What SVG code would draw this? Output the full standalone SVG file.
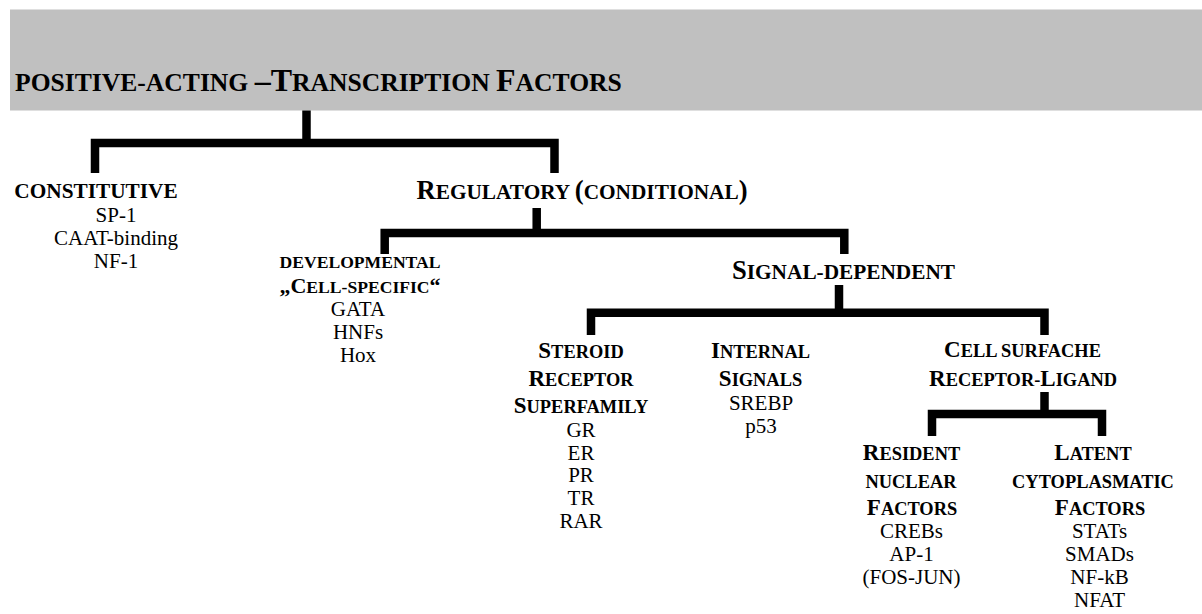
<svg xmlns="http://www.w3.org/2000/svg" width="1202" height="614" viewBox="0 0 1202 614">
<style>
text{font-family:"Liberation Serif","DejaVu Serif",serif;fill:#000}
.t{font-weight:bold;font-size:32px}
.t .s{font-size:25.6px}
.h{font-weight:bold;font-size:26.6px;text-anchor:middle}
.h .s{font-size:21.3px}
.h2{font-weight:bold;font-size:23px;text-anchor:middle}
.h2 .s{font-size:18.4px}
.h3{font-weight:bold;font-size:22px;text-anchor:middle}
.h3 .s{font-size:17.6px}
.r{font-weight:normal;font-size:21px;text-anchor:middle}
.c{fill:none;stroke:#000;stroke-width:8.5;stroke-linejoin:miter}
</style>
<g id="title">
<rect x="10" y="9.5" width="1192" height="101" fill="#c0c0c0"/>
<text class="t" x="15" y="91"><tspan class="s">POSITIVE-ACTING </tspan>–T<tspan class="s">RANSCRIPTION </tspan>F<tspan class="s">ACTORS</tspan></text>
</g>
<g id="connectors">
<path class="c" d="M306.5,110.5 V143"/>
<path class="c" d="M95,173 V143 H554.5 V173"/>
<path class="c" d="M536.7,208 V233"/>
<path class="c" d="M384.7,254 V233 H844.3 V254"/>
<path class="c" d="M839,285 V312.7"/>
<path class="c" d="M591,335 V312.7 H1044.5 V335"/>
<path class="c" d="M1044.5,392 V414"/>
<path class="c" d="M932,436 V414 H1102 V436"/>
</g>
<g id="constitutive">
<text class="h" x="96" y="198"><tspan class="s">CONSTITUTIVE</tspan></text>
<text class="r" x="116" y="222">SP-1</text>
<text class="r" x="116" y="245">CAAT-binding</text>
<text class="r" x="116" y="268">NF-1</text>
</g>
<g id="regulatory">
<text class="h" x="582" y="199">R<tspan class="s">EGULATORY </tspan>(<tspan class="s">CONDITIONAL</tspan>)</text>
</g>
<g id="developmental">
<text class="h3" x="360" y="268"><tspan class="s">DEVELOPMENTAL</tspan></text>
<text class="h3" x="360" y="293">„C<tspan class="s">ELL-SPECIFIC</tspan>“</text>
<text class="r" x="358" y="316">GATA</text>
<text class="r" x="358" y="339">HNFs</text>
<text class="r" x="358" y="362">Hox</text>
</g>
<g id="signal-dependent">
<text class="h" x="843.5" y="279">S<tspan class="s">IGNAL-DEPENDENT</tspan></text>
</g>
<g id="steroid">
<text class="h2" x="581" y="358">S<tspan class="s">TEROID</tspan></text>
<text class="h2" x="581" y="386">R<tspan class="s">ECEPTOR</tspan></text>
<text class="h2" x="581" y="413">S<tspan class="s">UPERFAMILY</tspan></text>
<text class="r" x="581" y="437">GR</text>
<text class="r" x="581" y="459.7">ER</text>
<text class="r" x="581" y="482.4">PR</text>
<text class="r" x="581" y="505.1">TR</text>
<text class="r" x="581" y="527.8">RAR</text>
</g>
<g id="internal">
<text class="h2" x="760.5" y="358">I<tspan class="s">NTERNAL</tspan></text>
<text class="h2" x="760.5" y="386">S<tspan class="s">IGNALS</tspan></text>
<text class="r" x="761" y="410">SREBP</text>
<text class="r" x="761" y="432.7">p53</text>
</g>
<g id="cell-surface">
<text class="h2" x="1022.5" y="357">C<tspan class="s">ELL SURFACHE</tspan></text>
<text class="h2" x="1023" y="386">R<tspan class="s">ECEPTOR-</tspan>L<tspan class="s">IGAND</tspan></text>
</g>
<g id="resident">
<text class="h2" x="911.5" y="460">R<tspan class="s">ESIDENT</tspan></text>
<text class="h2" x="911" y="487.5"><tspan class="s">NUCLEAR</tspan></text>
<text class="h2" x="912" y="515">F<tspan class="s">ACTORS</tspan></text>
<text class="r" x="911.5" y="538">CREBs</text>
<text class="r" x="911.5" y="561">AP-1</text>
<text class="r" x="911.5" y="584">(FOS-JUN)</text>
</g>
<g id="latent">
<text class="h2" x="1093" y="460">L<tspan class="s">ATENT</tspan></text>
<text class="h2" x="1093" y="487.5"><tspan class="s">CYTOPLASMATIC</tspan></text>
<text class="h2" x="1100" y="515">F<tspan class="s">ACTORS</tspan></text>
<text class="r" x="1099.5" y="538">STATs</text>
<text class="r" x="1099.5" y="561">SMADs</text>
<text class="r" x="1099.5" y="584">NF-kB</text>
<text class="r" x="1099.5" y="607">NFAT</text>
</g>
</svg>
